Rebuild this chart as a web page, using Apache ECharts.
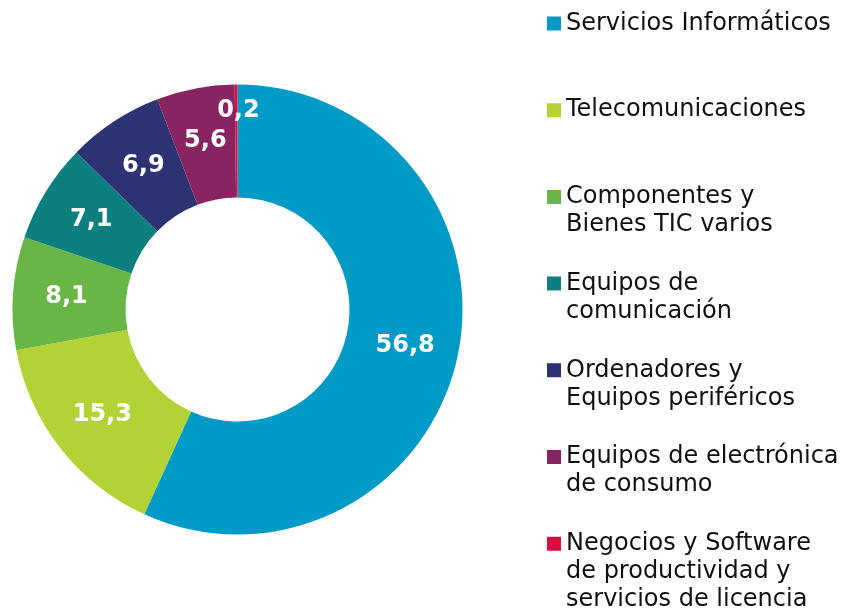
<!DOCTYPE html>
<html lang="es">
<head>
    <meta charset="UTF-8">
    <title>Donut</title>
    <script src="https://cdn.jsdelivr.net/npm/echarts@6/dist/echarts.min.js"></script>
    <style>
        html, body { margin: 0; padding: 0; background: #fff; }
        #chart { width: 849px; height: 611px; }
    </style>
</head>
<body>
<div id="chart"></div>
<script type="text/javascript">
    // datos
    var categories = ['Servicios Informáticos', 'Telecomunicaciones', 'Componentes y Bienes TIC varios',
        'Equipos de comunicación', 'Ordenadores y Equipos periféricos', 'Equipos de electrónica de consumo',
        'Negocios y Software de productividad y servicios de licencia'];
    var values = [56.8, 15.3, 8.1, 7.1, 6.9, 5.6, 0.2];
    var legendText = ['Servicios Informáticos', 'Telecomunicaciones', 'Componentes y\nBienes TIC varios',
        'Equipos de\ncomunicación', 'Ordenadores y\nEquipos periféricos', 'Equipos de electrónica\nde consumo',
        'Negocios y Software\nde productividad y\nservicios de licencia'];
    var colors = ['#009ac7', '#b2d235', '#69b647', '#0c7f7e', '#2d3372', '#882560', '#d4103f'];

    var font = "'DejaVu Sans', Verdana, sans-serif";
    var lh = 28;

    var chart = echarts.init(document.getElementById('chart'));

    // una leyenda por elemento, para mantener el espaciado fijo;
    // el icono se alinea con la primera linea del texto
    var legends = categories.map(function (name, i) {
        var n = legendText[i].split('\n').length;
        var h = 14 + (n - 1) * lh;
        var c = 23.5 + i * 86.7;   // centro del icono
        return {
            orient: 'vertical',
            left: 547,
            top: c - 14,
            padding: 0,
            icon: 'path://M0,0H14V14H0Z M0,' + h + 'H0.01Z',
            itemWidth: 14,
            itemHeight: h,
            itemGap: 0,
            selectedMode: false,
            data: [name],
            formatter: function (nm) {
                return legendText[categories.indexOf(nm)];
            },
            textStyle: {
                fontFamily: font,
                fontSize: 24,
                lineHeight: lh,
                color: '#111'
            }
        };
    });

    var option = {
        animation: false,
        color: colors,
        legend: legends,
        series: [{
            type: 'pie',
            center: [237.5, 309.5],
            radius: [112, 225],
            startAngle: 90,
            clockwise: true,
            avoidLabelOverlap: false,
            labelLine: { show: false },
            emphasis: { disabled: true },
            label: {
                show: true,
                position: 'inside',
                color: '#fff',
                fontFamily: font,
                fontWeight: 'bold',
                fontSize: 24,
                formatter: function (p) {
                    return p.value.toFixed(1).replace('.', ',');
                }
            },
            labelLayout: function (p) {
                // la etiqueta del sector más pequeño va desplazada hacia arriba
                if (p.dataIndex === values.length - 1) {
                    return { dx: 2, dy: -27 };
                }
            },
            data: categories.map(function (name, i) {
                return { name: name, value: values[i] };
            })
        }]
    };

    chart.setOption(option);
</script>
</body>
</html>
